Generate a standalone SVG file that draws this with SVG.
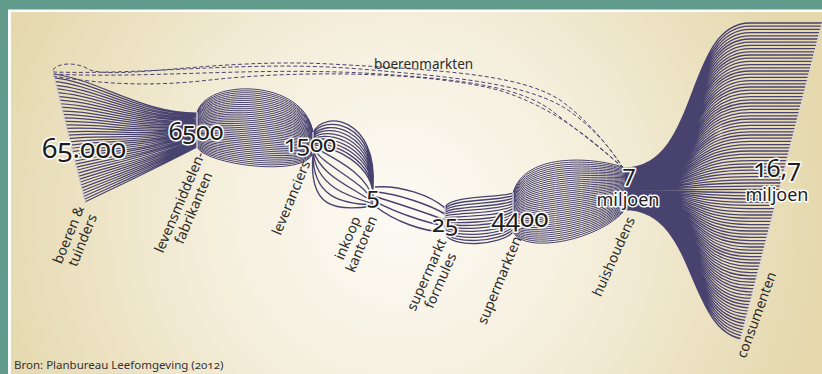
<svg xmlns="http://www.w3.org/2000/svg" width="822" height="374" viewBox="0 0 822 374">
<defs>
<radialGradient id="bg" gradientUnits="userSpaceOnUse" cx="400" cy="215" r="430">
<stop offset="0" stop-color="#fdfbf6"/>
<stop offset="0.45" stop-color="#f4eedb"/>
<stop offset="1" stop-color="#e5d8ad"/>
</radialGradient>
<clipPath id="clipL"><polygon points="50,60 200,60 200,215 88.2,215"/></clipPath>
<clipPath id="clipR"><polygon points="600,0 827.9,0 731.8,374 600,374"/></clipPath>
<style>
.ln{fill:none;stroke:#48426f;stroke-width:1}
.b1{stroke-width:1.2}
.b3{stroke-width:1.3}
.b4{stroke-width:1.5}
.fan{stroke-width:1.3}
.dash{fill:none;stroke:#4a4474;stroke-width:1;stroke-dasharray:4 2.5}
.mk{fill:none;stroke:#c9c6d6;stroke-width:1.5}
.num{font-family:'Noto Sans','Open Sans',sans-serif;fill:#1e1e1e;stroke:#ffffff;stroke-width:3;paint-order:stroke;stroke-linejoin:round;text-anchor:middle;font-variant-numeric:oldstyle-nums}
.lab{font-family:'Noto Sans','Open Sans',sans-serif;font-size:14px;fill:#2b2b2b;text-anchor:middle}
</style>
</defs>
<rect x="0" y="0" width="822" height="374" fill="#609b8c"/>
<rect x="8" y="9.5" width="814" height="364.5" fill="#ffffff"/>
<rect x="11" y="12" width="811" height="362" fill="url(#bg)"/>

<g id="connectors">
<path class="ln b1" clip-path="url(#clipL)" d="M53,74C100,80 140,113 197,113M53,77.7C100,82.9 140,114.6 197,113.9M53,81.4C100,85.9 140,116.3 197,114.7M53,85.1C100,88.8 140,117.9 197,115.6M53,88.7C100,91.7 140,119.5 197,116.5M53,92.4C100,94.6 140,121.1 197,117.4M53,96.1C100,97.6 140,122.8 197,118.2M53,99.8C100,100.5 140,124.4 197,119.1M53,103.5C100,103.4 140,126 197,120M53,107.2C100,106.3 140,127.6 197,120.8M53,110.9C100,109.3 140,129.3 197,121.7M53,114.6C100,112.2 140,130.9 197,122.6M53,118.2C100,115.1 140,132.5 197,123.5M53,121.9C100,118 140,134.1 197,124.3M53,125.6C100,121 140,135.8 197,125.2M53,129.3C100,123.9 140,137.4 197,126.1M53,133C100,126.8 140,139 197,126.9M53,136.7C100,129.7 140,140.6 197,127.8M53,140.4C100,132.7 140,142.3 197,128.7M53,144.1C100,135.6 140,143.9 197,129.6M53,147.7C100,138.5 140,145.5 197,130.4M53,151.4C100,141.4 140,147.1 197,131.3M53,155.1C100,144.4 140,148.8 197,132.2M53,158.8C100,147.3 140,150.4 197,133.1M53,162.5C100,150.2 140,152 197,133.9M53,166.2C100,153.1 140,153.6 197,134.8M53,169.9C100,156.1 140,155.3 197,135.7M53,173.6C100,159 140,156.9 197,136.5M53,177.2C100,161.9 140,158.5 197,137.4M53,180.9C100,164.8 140,160.1 197,138.3M53,184.6C100,167.8 140,161.8 197,139.2M53,188.3C100,170.7 140,163.4 197,140M53,192C100,173.6 140,165 197,140.9M53,195.7C100,176.5 140,166.6 197,141.8M53,199.4C100,179.5 140,168.3 197,142.6M53,203.1C100,182.4 140,169.9 197,143.5M53,206.7C100,185.3 140,171.5 197,144.4M53,210.4C100,188.2 140,173.1 197,145.3M53,214.1C100,191.2 140,174.8 197,146.1M53,217.8C100,194.1 140,176.4 197,147"/>
<path class="ln" d="M197,113C205,78 305,78 313,133M197,113.9C205,80.2 305,80.6 313,133.5M197,114.7C205,82.4 305,83.1 313,134M197,115.6C205,84.7 305,85.7 313,134.5M197,116.5C205,86.9 305,88.3 313,135.1M197,117.4C205,89.1 305,90.8 313,135.6M197,118.2C205,91.3 305,93.4 313,136.1M197,119.1C205,93.6 305,95.9 313,136.6M197,120C205,95.8 305,98.5 313,137.1M197,120.8C205,98 305,101.1 313,137.6M197,121.7C205,100.2 305,103.6 313,138.1M197,122.6C205,102.5 305,106.2 313,138.6M197,123.5C205,104.7 305,108.8 313,139.2M197,124.3C205,106.9 305,111.3 313,139.7M197,125.2C205,109.1 305,113.9 313,140.2M197,126.1C205,111.3 305,116.5 313,140.7M197,126.9C205,113.6 305,119 313,141.2M197,127.8C205,115.8 305,121.6 313,141.7M197,128.7C205,118 305,124.2 313,142.2M197,129.6C205,120.2 305,126.7 313,142.7M197,130.4C205,122.5 305,129.3 313,143.3M197,131.3C205,124.7 305,131.8 313,143.8M197,132.2C205,126.9 305,134.4 313,144.3M197,133.1C205,129.1 305,137 313,144.8M197,133.9C205,131.4 305,139.5 313,145.3M197,134.8C205,133.6 305,142.1 313,145.8M197,135.7C205,135.8 305,144.7 313,146.3M197,136.5C205,138 305,147.2 313,146.8M197,137.4C205,140.2 305,149.8 313,147.4M197,138.3C205,142.5 305,152.4 313,147.9M197,139.2C205,144.7 305,154.9 313,148.4M197,140C205,146.9 305,157.5 313,148.9M197,140.9C205,149.1 305,160.1 313,149.4M197,141.8C205,151.4 305,162.6 313,149.9M197,142.6C205,153.6 305,165.2 313,150.4M197,143.5C205,155.8 305,167.7 313,150.9M197,144.4C205,158 305,170.3 313,151.5M197,145.3C205,160.3 305,172.9 313,152M197,146.1C205,162.5 305,175.4 313,152.5M197,147C205,164.7 305,178 313,153"/>
<path class="ln b3" d="M313,133C322,110 378,116 373,188M313,134.3C323,113.9 377.7,121.3 373,189.2M313,135.7C324,117.8 377.3,126.7 373,190.4M313,137C325,121.7 377,132 373,191.7M313,138.3C326,125.6 376.7,137.3 373,192.9M313,139.7C327,129.4 376.3,142.7 373,194.1M313,141C328,133.3 376,148 373,195.3M313,142.3C329,137.2 375.7,153.3 373,196.6M313,143.7C330,141.1 375.3,158.7 373,197.8M313,145C331,145 375,164 373,199M313,146.3C327.2,155.5 368.3,172 373,200.2M313,147.7C323.3,166 361.7,180 373,201.3M313,149C319.5,176.5 355,188 373,202.5M313,150.3C315.7,187 348.3,196 373,203.7M313,151.7C311.8,197.5 341.7,204 373,204.8M313,153C308,208 335,212 373,206"/>
<path class="ln b4" d="M375,187C400,185 430,195 445,208M375,191.8C398.8,194.3 428.8,204.3 445,214M375,196.5C397.5,203.5 427.5,213.5 445,220M375,201.3C396.3,212.8 426.3,222.8 445,226M375,206C395,222 425,232 445,232"/>
<path class="ln b3" d="M445,207C452,195 500,198 513,193M445,208.8C452,198.5 500,201.2 513,195.6M445,210.6C452,202.1 500,204.4 513,198.2M445,212.4C452,205.6 500,207.6 513,200.8M445,214.2C452,209.1 500,210.8 513,203.4M445,216C452,212.7 500,214 513,206M445,217.8C452,216.2 500,217.2 513,208.6M445,219.6C452,219.7 500,220.4 513,211.2M445,221.4C452,223.3 500,223.6 513,213.8M445,223.2C452,226.8 500,226.8 513,216.4M445,225C452,230.3 500,230 513,219M445,226.8C452,233.9 500,233.2 513,221.6M445,228.6C452,237.4 500,236.4 513,224.2M445,230.4C452,240.9 500,239.6 513,226.8M445,232.2C452,244.5 500,242.8 513,229.4M445,234C452,248 500,246 513,232"/>
<path class="ln" d="M513,193C525,150 600,158 625,168M513,194C525,152.7 600,160.1 625,169.1M513,195C525,155.4 600,162.2 625,170.2M513,196C525,158.1 600,164.3 625,171.2M513,197C525,160.8 600,166.4 625,172.3M513,198C525,163.5 600,168.5 625,173.4M513,199C525,166.2 600,170.6 625,174.5M513,200C525,168.8 600,172.7 625,175.5M513,201C525,171.5 600,174.8 625,176.6M513,202C525,174.2 600,176.9 625,177.7M513,203C525,176.9 600,179 625,178.8M513,204C525,179.6 600,181.1 625,179.8M513,205C525,182.3 600,183.2 625,180.9M513,206C525,185 600,185.3 625,182M513,207C525,187.7 600,187.4 625,183.1M513,208C525,190.4 600,189.5 625,184.2M513,209C525,193.1 600,191.6 625,185.2M513,210C525,195.8 600,193.7 625,186.3M513,211C525,198.5 600,195.8 625,187.4M513,212C525,201.2 600,197.9 625,188.5M513,213C525,203.8 600,200.1 625,189.5M513,214C525,206.5 600,202.2 625,190.6M513,215C525,209.2 600,204.3 625,191.7M513,216C525,211.9 600,206.4 625,192.8M513,217C525,214.6 600,208.5 625,193.8M513,218C525,217.3 600,210.6 625,194.9M513,219C525,220 600,212.7 625,196M513,220C525,222.7 600,214.8 625,197.1M513,221C525,225.4 600,216.9 625,198.2M513,222C525,228.1 600,219 625,199.2M513,223C525,230.8 600,221.1 625,200.3M513,224C525,233.5 600,223.2 625,201.4M513,225C525,236.2 600,225.3 625,202.5M513,226C525,238.8 600,227.4 625,203.5M513,227C525,241.5 600,229.5 625,204.6M513,228C525,244.2 600,231.6 625,205.7M513,229C525,246.9 600,233.7 625,206.8M513,230C525,249.6 600,235.8 625,207.8M513,231C525,252.3 600,237.9 625,208.9M513,232C525,255 600,240 625,210"/>
<path class="ln fan" clip-path="url(#clipR)" d="M625,168C700,168 685,23 750,23H822M625,168.4C700,168.4 685,26.2 750,26.2H822M625,168.8C700,168.8 685,29.4 750,29.4H822M625,169.3C700,169.3 685,32.6 750,32.6H822M625,169.7C700,169.7 685,35.8 750,35.8H822M625,170.1C700,170.1 685,39 750,39H822M625,170.5C700,170.5 685,42.2 750,42.2H822M625,170.9C700,170.9 685,45.4 750,45.4H822M625,171.4C700,171.4 685,48.6 750,48.6H822M625,171.8C700,171.8 685,51.8 750,51.8H822M625,172.2C700,172.2 685,55 750,55H822M625,172.6C700,172.6 685,58.2 750,58.2H822M625,173C700,173 685,61.4 750,61.4H822M625,173.5C700,173.5 685,64.6 750,64.6H822M625,173.9C700,173.9 685,67.8 750,67.8H822M625,174.3C700,174.3 685,71 750,71H822M625,174.7C700,174.7 685,74.2 750,74.2H822M625,175.1C700,175.1 685,77.4 750,77.4H822M625,175.6C700,175.6 685,80.6 750,80.6H822M625,176C700,176 685,83.8 750,83.8H822M625,176.4C700,176.4 685,87 750,87H822M625,176.8C700,176.8 685,90.2 750,90.2H822M625,177.2C700,177.2 685,93.4 750,93.4H822M625,177.7C700,177.7 685,96.6 750,96.6H822M625,178.1C700,178.1 685,99.8 750,99.8H822M625,178.5C700,178.5 685,103 750,103H822M625,178.9C700,178.9 685,106.2 750,106.2H822M625,179.3C700,179.3 685,109.4 750,109.4H822M625,179.8C700,179.8 685,112.6 750,112.6H822M625,180.2C700,180.2 685,115.8 750,115.8H822M625,180.6C700,180.6 685,119 750,119H822M625,181C700,181 685,122.2 750,122.2H822M625,181.4C700,181.4 685,125.4 750,125.4H822M625,181.9C700,181.9 685,128.6 750,128.6H822M625,182.3C700,182.3 685,131.8 750,131.8H822M625,182.7C700,182.7 685,135 750,135H822M625,183.1C700,183.1 685,138.2 750,138.2H822M625,183.5C700,183.5 685,141.4 750,141.4H822M625,184C700,184 685,144.6 750,144.6H822M625,184.4C700,184.4 685,147.8 750,147.8H822M625,184.8C700,184.8 685,151 750,151H822M625,185.2C700,185.2 685,154.2 750,154.2H822M625,185.6C700,185.6 685,157.4 750,157.4H822M625,186.1C700,186.1 685,160.6 750,160.6H822M625,186.5C700,186.5 685,163.8 750,163.8H822M625,186.9C700,186.9 685,167 750,167H822M625,187.3C700,187.3 685,170.2 750,170.2H822M625,187.7C700,187.7 685,173.4 750,173.4H822M625,188.2C700,188.2 685,176.6 750,176.6H822M625,188.6C700,188.6 685,179.8 750,179.8H822M625,189C700,189 685,183 750,183H822M625,189.4C700,189.4 685,186.2 750,186.2H822M625,189.8C700,189.8 685,189.4 750,189.4H822M625,190.3C700,190.3 685,192.6 750,192.6H822M625,190.7C700,190.7 685,195.8 750,195.8H822M625,191.1C700,191.1 685,199 750,199H822M625,191.5C700,191.5 685,202.2 750,202.2H822M625,191.9C700,191.9 685,205.4 750,205.4H822M625,192.4C700,192.4 685,208.6 750,208.6H822M625,192.8C700,192.8 685,211.8 750,211.8H822M625,193.2C700,193.2 685,215 750,215H822M625,193.6C700,193.6 685,218.2 750,218.2H822M625,194C700,194 685,221.4 750,221.4H822M625,194.5C700,194.5 685,224.6 750,224.6H822M625,194.9C700,194.9 685,227.8 750,227.8H822M625,195.3C700,195.3 685,231 750,231H822M625,195.7C700,195.7 685,234.2 750,234.2H822M625,196.1C700,196.1 685,237.4 750,237.4H822M625,196.6C700,196.6 685,240.6 750,240.6H822M625,197C700,197 685,243.8 750,243.8H822M625,197.4C700,197.4 685,247 750,247H822M625,197.8C700,197.8 685,250.2 750,250.2H822M625,198.2C700,198.2 685,253.4 750,253.4H822M625,198.7C700,198.7 685,256.6 750,256.6H822M625,199.1C700,199.1 685,259.8 750,259.8H822M625,199.5C700,199.5 685,263 750,263H822M625,199.9C700,199.9 685,266.2 750,266.2H822M625,200.3C700,200.3 685,269.4 750,269.4H822M625,200.8C700,200.8 685,272.6 750,272.6H822M625,201.2C700,201.2 685,275.8 750,275.8H822M625,201.6C700,201.6 685,279 750,279H822M625,202C700,202 685,282.2 750,282.2H822M625,202.4C700,202.4 685,285.4 750,285.4H822M625,202.9C700,202.9 685,288.6 750,288.6H822M625,203.3C700,203.3 685,291.8 750,291.8H822M625,203.7C700,203.7 685,295 750,295H822M625,204.1C700,204.1 685,298.2 750,298.2H822M625,204.5C700,204.5 685,301.4 750,301.4H822M625,205C700,205 685,304.6 750,304.6H822M625,205.4C700,205.4 685,307.8 750,307.8H822M625,205.8C700,205.8 685,311 750,311H822M625,206.2C700,206.2 685,314.2 750,314.2H822M625,206.6C700,206.6 685,317.4 750,317.4H822M625,207.1C700,207.1 685,320.6 750,320.6H822M625,207.5C700,207.5 685,323.8 750,323.8H822M625,207.9C700,207.9 685,327 750,327H822M625,208.3C700,208.3 685,330.2 750,330.2H822M625,208.7C700,208.7 685,333.4 750,333.4H822M625,209.2C700,209.2 685,336.6 750,336.6H822M625,209.6C700,209.6 685,339.8 750,339.8H822"/>
<g id="boerenmarkten-routes">
<path class="dash" d="M53,70C58,62 78,62 90,70C120,80 220,58 330,64C440,70 520,74 560,100C588,120 610,148 623,168"/>
<path class="dash" d="M53,72C150,75 250,60 360,69C450,77 525,82 568,110C594,128 612,150 623,168"/>
<path class="dash" d="M53,74C150,79 260,66 380,74C470,80 525,88 556,114C585,136 608,154 623,168"/>
<path class="dash" d="M53,76C100,84 150,87 210,80C300,70 420,72 490,88C540,100 585,132 623,168"/>
<text x="374" y="69" style="font-family:'Noto Sans','Open Sans',sans-serif;font-size:13.5px;fill:#2b2b2b">boerenmarkten</text>
</g>
</g>

<g id="node-boeren">
<line class="mk" x1="53" y1="72" x2="85.5" y2="203" style="stroke-width:1"/>
<text class="num" x="84" y="158" font-size="28">65.000</text>
<text class="lab" transform="translate(73,236.5) rotate(-68)"><tspan x="0" y="0">boeren &amp;</tspan><tspan x="0" y="15">tuinders</tspan></text>
</g>
<g id="node-levensmiddelen">
<line class="mk" x1="197" y1="112" x2="197" y2="148"/>
<text class="num" x="196" y="140" font-size="25">6500</text>
<text class="lab" transform="translate(184,204) rotate(-67)"><tspan x="0" y="0">levensmiddelen-</tspan><tspan x="0" y="15">fabrikanten</tspan></text>
</g>
<g id="node-leveranciers">
<line class="mk" x1="313" y1="132" x2="313" y2="154"/>
<text class="num" x="310" y="152" font-size="24">1500</text>
<text class="lab" transform="translate(295.5,199.5) rotate(-67.5)">leveranciers</text>
</g>
<g id="node-inkoop">
<text class="num" x="373" y="204" font-size="24">5</text>
<text class="lab" transform="translate(352,240) rotate(-67)"><tspan x="0" y="0">inkoop</tspan><tspan x="0" y="15">kantoren</tspan></text>
</g>
<g id="node-formules">
<line class="mk" x1="445" y1="206" x2="445" y2="235"/>
<text class="num" x="445" y="232" font-size="24">25</text>
<text class="lab" transform="translate(431,276.5) rotate(-66)"><tspan x="0" y="0">supermarkt</tspan><tspan x="0" y="15">formules</tspan></text>
</g>
<g id="node-supermarkten">
<line class="mk" x1="513" y1="192" x2="513" y2="233"/>
<text class="num" x="520" y="227" font-size="26">4400</text>
<text class="lab" transform="translate(504,282) rotate(-67.5)">supermarkten</text>
</g>
<g id="node-huishoudens">
<text class="num" x="629" y="182" font-size="24">7</text>
<text class="num" x="628" y="206" font-size="18">miljoen</text>
<text class="lab" transform="translate(618,258.5) rotate(-66)">huishoudens</text>
</g>
<g id="node-consumenten">
<line class="mk" x1="822" y1="23" x2="740" y2="342" style="stroke:#d9d6e2;stroke-width:1"/>
<text class="num" x="777" y="177" font-size="25">16,7</text>
<text class="num" x="777" y="201" font-size="18">miljoen</text>
<text class="lab" transform="translate(761,316.5) rotate(-70)">consumenten</text>
</g>
<text x="14" y="369" style="font-family:'Noto Sans','Open Sans',sans-serif;font-size:11.5px;fill:#333333;font-variant-numeric:oldstyle-nums">Bron: Planbureau Leefomgeving (2012)</text>
</svg>
